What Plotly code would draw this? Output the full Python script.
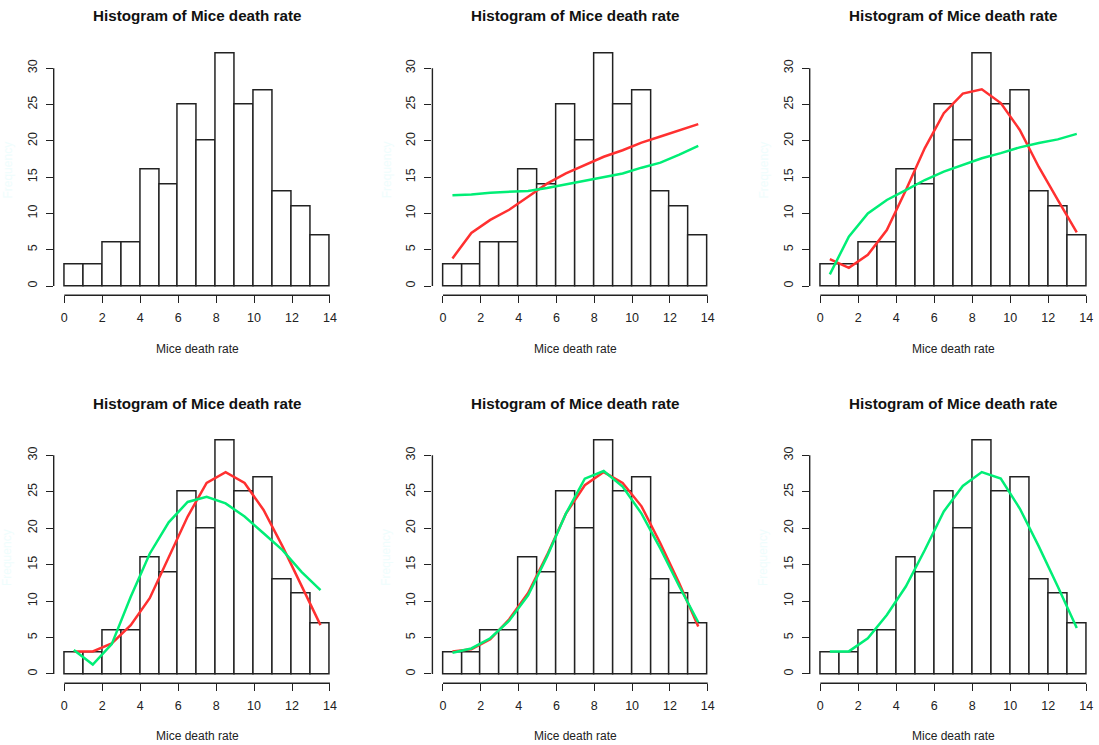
import plotly.graph_objects as go

# Histogram of mice death rate: unit-width bins from 0 to 14
bin_edges = list(range(0, 15))
bin_mids = [e + 0.5 for e in bin_edges[:-1]]
counts = [3, 3, 6, 6, 16, 14, 25, 20, 32, 25, 27, 13, 11, 7]

x_ticks = [0, 2, 4, 6, 8, 10, 12, 14]
y_ticks = [0, 5, 10, 15, 20, 25, 30]

# Smoothed fits evaluated at bin midpoints (red / green per panel)
p2_red = [3.8, 7.3, 9.1, 10.5, 12.3, 14.1, 15.5, 16.7, 17.8, 18.7, 19.75, 20.6, 21.5, 22.3]
p2_green = [12.5, 12.6, 12.85, 13.0, 13.1, 13.5, 14.0, 14.4, 14.9, 15.5, 16.3, 17.0, 18.1, 19.3]
p3_red = [3.7, 2.5, 4.3, 7.7, 13.2, 19.0, 23.8, 26.5, 27.1, 25.2, 21.5, 16.4, 11.85, 7.4]
p3_green = [1.6, 6.8, 10.0, 11.85, 13.2, 14.6, 15.75, 16.7, 17.6, 18.3, 19.1, 19.7, 20.2, 20.95]
p4_red = [3.1, 3.1, 4.2, 6.7, 10.4, 16.1, 21.6, 26.2, 27.7, 26.2, 22.5, 17.5, 12.0, 6.7]
p4_green = [3.3, 1.3, 4.1, 10.6, 16.5, 20.8, 23.6, 24.3, 23.4, 21.6, 19.3, 17.0, 14.0, 11.5]
p5_red = [3.1, 3.4, 4.75, 7.5, 11.1, 16.3, 22.0, 25.9, 27.7, 26.2, 23.0, 17.9, 12.4, 6.5]
p5_green = [2.9, 3.5, 4.9, 7.3, 10.8, 16.1, 22.0, 26.8, 27.85, 25.7, 22.0, 17.2, 12.0, 7.1]
p6_green = [3.1, 3.1, 4.9, 8.1, 12.0, 17.0, 22.3, 25.8, 27.7, 26.8, 22.7, 17.5, 12.0, 6.3]

panel_lines = [
    [],
    [(p2_red, "#ff3030"), (p2_green, "#00ee76")],
    [(p3_red, "#ff3030"), (p3_green, "#00ee76")],
    [(p4_red, "#ff3030"), (p4_green, "#00ee76")],
    [(p5_red, "#ff3030"), (p5_green, "#00ee76")],
    [(p6_green, "#00ee76")],
]

TITLE = "Histogram of Mice death rate"
XLABEL = "Mice death rate"
YLABEL = "Frequency"

W, H = 1099, 745
# plot regions in pixels: (left, right, top, bottom)
cols = [(53.7, 340.6), (432.4, 718.3), (809.7, 1096.9)]
rows = [(44.4, 295.3), (431.4, 683.3)]

FONT = "Liberation Sans, Arial, sans-serif"
xr = [-0.56, 14.56]
yr = [-1.28, 33.28]

fig = go.Figure()
layout_axes = {}
shapes = []
annotations = []

for i in range(6):
    r, c = divmod(i, 3)
    left, right = cols[c]
    top, bottom = rows[r]
    n = i + 1
    xa = "x" if n == 1 else f"x{n}"
    ya = "y" if n == 1 else f"y{n}"
    xkey = "xaxis" if n == 1 else f"xaxis{n}"
    ykey = "yaxis" if n == 1 else f"yaxis{n}"

    fig.add_trace(go.Bar(
        x=bin_mids, y=counts, width=1,
        marker=dict(color="white", line=dict(color="#222222", width=1.5)),
        xaxis=xa, yaxis=ya, showlegend=False, hoverinfo="x+y",
    ))
    for vals, col in panel_lines[i]:
        fig.add_trace(go.Scatter(
            x=bin_mids, y=vals, mode="lines",
            line=dict(color=col, width=2.5),
            xaxis=xa, yaxis=ya, showlegend=False,
        ))

    layout_axes[xkey] = dict(
        domain=[left / W, right / W], range=xr, anchor=ya,
        tickvals=x_ticks, ticks="outside", ticklen=7, tickwidth=1.2,
        tickcolor="#222222", showgrid=False, zeroline=False, showline=False,
        ticklabelstandoff=4,
        tickfont=dict(family=FONT, size=12.5, color="#222222"),
    )
    layout_axes[ykey] = dict(
        domain=[1 - bottom / H, 1 - top / H], range=yr, anchor=xa,
        tickvals=y_ticks, ticks="outside", ticklen=7, tickwidth=1.2,
        tickcolor="#222222", showgrid=False, zeroline=False, showline=False,
        tickangle=-90, ticklabelstandoff=4,
        tickfont=dict(family=FONT, size=12.5, color="#222222"),
    )

    # R-style axis lines spanning only the tick range
    shapes.append(dict(type="line", xref=f"{xa} domain", yref=ya,
                       x0=0, x1=0, y0=y_ticks[0], y1=y_ticks[-1],
                       line=dict(color="#222222", width=1.4)))
    shapes.append(dict(type="line", xref=xa, yref=f"{ya} domain",
                       x0=x_ticks[0], x1=x_ticks[-1], y0=0, y1=0,
                       line=dict(color="#222222", width=1.4)))

    cx = (left + right) / 2 / W
    annotations.append(dict(
        text=f"<b>{TITLE}</b>", x=cx, y=1 - (16 if r == 0 else 403) / H,
        xref="paper", yref="paper", showarrow=False, xanchor="center", yanchor="middle",
        font=dict(family=FONT, size=15.2, color="#111111"),
    ))
    annotations.append(dict(
        text=XLABEL, x=cx, y=1 - (349 if r == 0 else 736) / H,
        xref="paper", yref="paper", showarrow=False, xanchor="center", yanchor="middle",
        font=dict(family=FONT, size=12, color="#222222"),
    ))
    annotations.append(dict(
        text=YLABEL, x=(left - 46) / W, y=1 - ((top + bottom) / 2) / H,
        xref="paper", yref="paper", showarrow=False, xanchor="center", yanchor="middle",
        textangle=-90, font=dict(family=FONT, size=12, color="#effdfd"),
    ))

fig.update_layout(
    width=W, height=H, margin=dict(l=0, r=0, t=0, b=0),
    paper_bgcolor="white", plot_bgcolor="white",
    bargap=0, shapes=shapes, annotations=annotations,
    **layout_axes,
)

fig.write_html("out.html")
